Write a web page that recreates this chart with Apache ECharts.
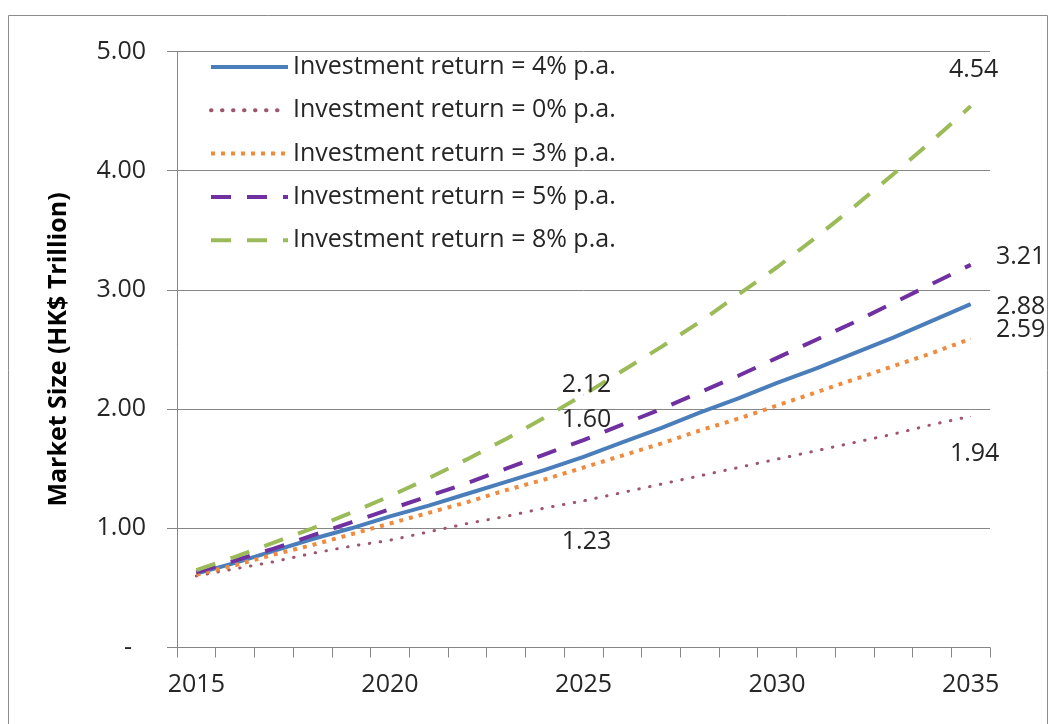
<!DOCTYPE html>
<html>
<head>
<meta charset="utf-8">
<title>Market Size projection</title>
<script src="https://cdn.jsdelivr.net/npm/echarts@6/dist/echarts.min.js"></script>
<style>
  html, body { margin: 0; padding: 0; background: #ffffff; }
  #chart { width: 1050px; height: 724px; }
</style>
</head>
<body>
<div id="chart"></div>
<script>
// Years on the horizontal axis
const years = ['2015','2016','2017','2018','2019','2020','2021','2022','2023','2024','2025',
               '2026','2027','2028','2029','2030','2031','2032','2033','2034','2035'];

// Market size (HK$ trillion) under each investment-return assumption
const return4 = [0.62,0.71,0.81,0.91,1.00,1.10,1.19,1.29,1.39,1.49,1.60,1.72,1.84,1.97,2.09,2.22,2.34,2.47,2.60,2.74,2.88];
const return0 = [0.60,0.66,0.72,0.79,0.85,0.90,0.97,1.04,1.10,1.17,1.23,1.30,1.37,1.44,1.51,1.58,1.65,1.72,1.79,1.87,1.94];
const return3 = [0.61,0.69,0.78,0.86,0.95,1.04,1.13,1.22,1.32,1.41,1.51,1.61,1.71,1.82,1.92,2.03,2.14,2.25,2.36,2.47,2.59];
const return5 = [0.63,0.73,0.83,0.94,1.05,1.16,1.27,1.38,1.50,1.62,1.74,1.87,2.00,2.14,2.28,2.43,2.58,2.73,2.89,3.05,3.21];
const return8 = [0.65,0.76,0.88,1.00,1.13,1.27,1.42,1.58,1.75,1.93,2.12,2.32,2.52,2.73,2.96,3.19,3.44,3.70,3.97,4.25,4.54];

const seriesNames = [
  'Investment return = 4% p.a.',
  'Investment return = 0% p.a.',
  'Investment return = 3% p.a.',
  'Investment return = 5% p.a.',
  'Investment return = 8% p.a.'
];

// Value tick labels on the vertical axis
const yTicks = [0, 1, 2, 3, 4, 5];

const FONT = 'Open Sans';
const TEXT = '#262626';

// Which points carry a value label, and where the label sits relative to the point
const labelSpots = {
  r4: { 10: [3, -37], 20: [50, 3] },
  r0: { 10: [3, 41], 20: [4, 38] },
  r3: { 20: [50, -9] },
  r5: { 20: [50, -8] },
  r8: { 10: [3, -10], 20: [3, -36] }
};

function withLabels(values, spots) {
  return values.map((v, i) => {
    if (!spots[i]) return v;
    return {
      value: v,
      symbol: 'circle',
      symbolSize: 1,
      label: {
        show: true,
        position: 'inside',
        offset: spots[i],
        color: TEXT,
        fontFamily: FONT,
        fontSize: 25,
        textBorderWidth: 0,
        formatter: p => Number(p.value).toFixed(2)
      }
    };
  });
}

function lineSeries(name, values, spots, color, width, type, cap) {
  return {
    name: name,
    type: 'line',
    data: withLabels(values, spots),
    symbol: 'none',
    showAllSymbol: true,
    itemStyle: { color: color },
    lineStyle: { color: color, width: width, type: type, cap: cap || 'butt' },
    emphasis: { disabled: true },
    z: 3
  };
}

const chart = echarts.init(document.getElementById('chart'), null, { renderer: 'canvas' });

chart.setOption({
  animation: false,
  backgroundColor: '#ffffff',
  graphic: [{
    type: 'rect',
    shape: { x: 8.5, y: 15.5, width: 1039, height: 730 },
    style: { fill: 'none', stroke: '#8c8c8c', lineWidth: 1 },
    silent: true,
    z: -10
  }],
  grid: { left: 177, right: 60, top: 51.5, bottom: 76.5, containLabel: false },
  legend: {
    orient: 'vertical',
    left: 209,
    top: 54,
    padding: 0,
    itemWidth: 77,
    itemHeight: 14,
    itemGap: 17.3,
    itemStyle: { opacity: 0 },
    lineStyle: { width: 4 },
    textStyle: { color: TEXT, fontFamily: FONT, fontSize: 25, lineHeight: 26 },
    data: seriesNames
  },
  xAxis: {
    type: 'category',
    data: years,
    boundaryGap: true,
    axisLine: { lineStyle: { color: '#868686', width: 1 } },
    axisTick: { show: true, interval: 0, length: 10, lineStyle: { color: '#868686' } },
    axisLabel: { interval: 4, margin: 25, color: TEXT, fontFamily: FONT, fontSize: 25 },
    splitLine: { show: false }
  },
  yAxis: {
    type: 'value',
    min: yTicks[0],
    max: yTicks[yTicks.length - 1],
    interval: 1,
    name: 'Market Size (HK$ Trillion)',
    nameLocation: 'middle',
    nameGap: 106,
    nameTextStyle: { color: '#000000', fontFamily: FONT, fontSize: 25, fontWeight: 'bold' },
    axisLine: { show: true, lineStyle: { color: '#868686', width: 1 } },
    axisTick: { show: true, length: 10, lineStyle: { color: '#868686' } },
    axisLabel: {
      margin: 31,
      color: TEXT,
      fontFamily: FONT,
      fontSize: 25,
      formatter: v => (v === 0 ? '{dash|-}' : v.toFixed(2)),
      rich: { dash: { color: TEXT, fontFamily: FONT, fontSize: 25, padding: [0, 14, 0, 0] } }
    },
    splitLine: { show: true, lineStyle: { color: '#868686', width: 1 } }
  },
  series: [
    lineSeries(seriesNames[0], return4, labelSpots.r4, '#4a7ebb', 4, 'solid'),
    lineSeries(seriesNames[1], return0, labelSpots.r0, '#a0566a', 3, [0.5, 10.5], 'round'),
    lineSeries(seriesNames[2], return3, labelSpots.r3, '#f08a3c', 4, [4, 6]),
    lineSeries(seriesNames[3], return5, labelSpots.r5, '#7030a0', 4, [20, 16]),
    lineSeries(seriesNames[4], return8, labelSpots.r8, '#9bbb59', 4, [20, 16])
  ]
});
</script>
</body>
</html>
